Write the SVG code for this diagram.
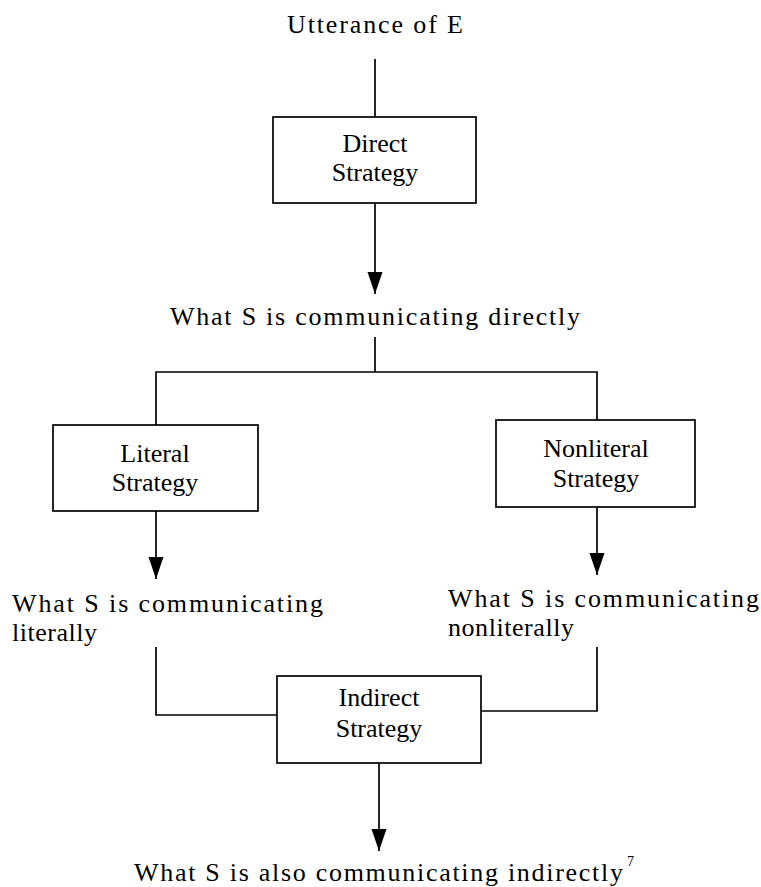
<svg xmlns="http://www.w3.org/2000/svg" width="761" height="887" viewBox="0 0 761 887">
  <style>
    .bg { fill: #ffffff; }
    .box { fill: #ffffff; stroke: #000000; stroke-width: 1.7; }
    .wire { fill: none; stroke: #000000; stroke-width: 1.7; }
    .lbl { font-family: "Liberation Serif", "Times New Roman", serif; font-size: 26px; fill: #000000; }
    .mid { text-anchor: middle; }
    .sup { font-family: "Liberation Serif", "Times New Roman", serif; font-size: 14px; fill: #000000; }
  </style>
  <defs>
    <marker id="arrow" markerUnits="userSpaceOnUse" markerWidth="22" markerHeight="16" refX="22" refY="8" orient="auto">
      <path d="M0,0.5 L22,8 L0,15.5 z" fill="#000000"/>
    </marker>
  </defs>

  <rect class="bg" x="0" y="0" width="761" height="887"/>

  <!-- connectors -->
  <g id="connectors">
    <path class="wire" d="M375,59 V117"/>
    <path class="wire" d="M375,203 V294" marker-end="url(#arrow)"/>
    <path class="wire" d="M375,337 V372"/>
    <path class="wire" d="M156,425 V372 H597 V420"/>
    <path class="wire" d="M156,511 V579" marker-end="url(#arrow)"/>
    <path class="wire" d="M597,507 V575" marker-end="url(#arrow)"/>
    <path class="wire" d="M156,647 V715 H277"/>
    <path class="wire" d="M597,647 V711 H481"/>
    <path class="wire" d="M379,763 V851" marker-end="url(#arrow)"/>
  </g>

  <!-- free-standing labels -->
  <g id="utterance">
    <text class="lbl mid" x="375" y="33" textLength="176" lengthAdjust="spacing">Utterance of E</text>
  </g>
  <g id="direct-result">
    <text class="lbl mid" x="375" y="325" textLength="410" lengthAdjust="spacing">What S is communicating directly</text>
  </g>
  <g id="literal-result">
    <text class="lbl" x="12" y="612" textLength="311" lengthAdjust="spacing">What S is communicating</text>
    <text class="lbl" x="12" y="641" textLength="85" lengthAdjust="spacing">literally</text>
  </g>
  <g id="nonliteral-result">
    <text class="lbl" x="448" y="607" textLength="311" lengthAdjust="spacing">What S is communicating</text>
    <text class="lbl" x="448" y="636" textLength="126" lengthAdjust="spacing">nonliterally</text>
  </g>
  <g id="indirect-result">
    <text class="lbl" x="134" y="881" textLength="489" lengthAdjust="spacing">What S is also communicating indirectly</text>
    <text class="sup" x="627" y="866">7</text>
  </g>

  <!-- strategy boxes -->
  <g id="direct-strategy">
    <rect class="box" x="273" y="117" width="203" height="86"/>
    <text class="lbl mid" x="375" y="152">Direct</text>
    <text class="lbl mid" x="375" y="181">Strategy</text>
  </g>
  <g id="literal-strategy">
    <rect class="box" x="53" y="425" width="205" height="86"/>
    <text class="lbl mid" x="155" y="462">Literal</text>
    <text class="lbl mid" x="155" y="491">Strategy</text>
  </g>
  <g id="nonliteral-strategy">
    <rect class="box" x="496" y="420" width="199" height="87"/>
    <text class="lbl mid" x="596" y="457">Nonliteral</text>
    <text class="lbl mid" x="596" y="487">Strategy</text>
  </g>
  <g id="indirect-strategy">
    <rect class="box" x="277" y="676" width="204" height="87"/>
    <text class="lbl mid" x="379" y="706">Indirect</text>
    <text class="lbl mid" x="379" y="737">Strategy</text>
  </g>
</svg>
